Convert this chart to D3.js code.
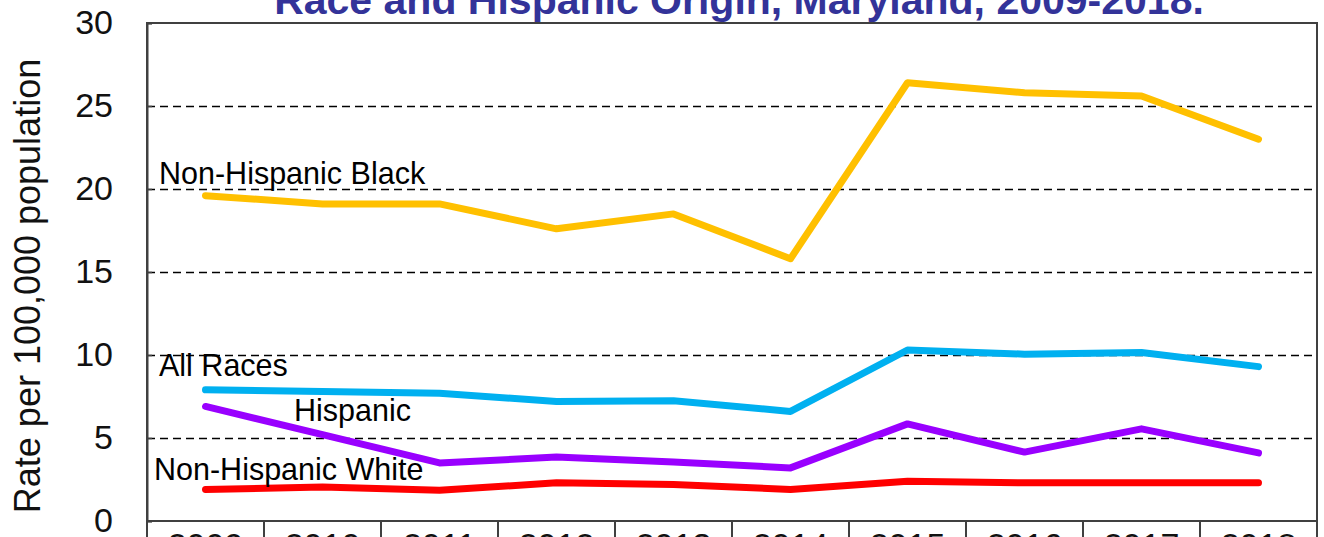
<!DOCTYPE html>
<html>
<head>
<meta charset="utf-8">
<script src="https://cdn.jsdelivr.net/npm/d3@7"></script>
<style>
  html, body { margin: 0; padding: 0; background: #fff; }
  svg { display: block; }
  text { font-family: "Liberation Sans", Arial, sans-serif; }
</style>
</head>
<body>
<svg id="chart" width="1324" height="537"></svg>
<script>
const years = ["2009","2010","2011","2012","2013","2014","2015","2016","2017","2018"];
const nhBlack = [19.6, 19.1, 19.1, 17.6, 18.5, 15.8, 26.4, 25.8, 25.6, 23.0];
const allRaces = [7.9, 7.8, 7.7, 7.2, 7.25, 6.6, 10.3, 10.05, 10.15, 9.3];
const hispanic = [6.9, 5.2, 3.5, 3.85, 3.55, 3.2, 5.85, 4.15, 5.55, 4.1];
const nhWhite = [1.9, 2.05, 1.85, 2.3, 2.2, 1.9, 2.4, 2.3, 2.3, 2.3];
const yTicks = [0, 5, 10, 15, 20, 25, 30];
const gridTicks = [5, 10, 15, 20, 25];
const titleText = "Race and Hispanic Origin, Maryland, 2009-2018.";
const yTitle = "Rate per 100,000 population";

const series = [
  { name: "Non-Hispanic Black", values: nhBlack, color: "#FFC000", lx: 159, ly: 184 },
  { name: "All Races", values: allRaces, color: "#00B0F0", lx: 159, ly: 376 },
  { name: "Hispanic", values: hispanic, color: "#9900FF", lx: 294, ly: 421 },
  { name: "Non-Hispanic White", values: nhWhite, color: "#FF0000", lx: 154, ly: 480 }
];

const svg = d3.select("#chart");
const L = 147, R = 1317, T = 23, B = 521;

const x = d3.scaleBand().domain(years).range([L, R]).padding(0);
const y = d3.scaleLinear().domain([0, 30]).range([B, T]);

// Title (partly clipped at top, as in the reference)
svg.append("text")
  .attr("x", 739).attr("y", 14)
  .attr("text-anchor", "middle")
  .attr("font-size", 41).attr("font-weight", "bold")
  .attr("fill", "#333399")
  .text(titleText);

// Gridlines
svg.append("g").selectAll("line").data(gridTicks).join("line")
  .attr("x1", L).attr("x2", R)
  .attr("y1", d => Math.round(y(d)) + 0.5).attr("y2", d => Math.round(y(d)) + 0.5)
  .attr("stroke", "#000").attr("stroke-width", 1.4)
  .attr("stroke-dasharray", "8,5");

// Plot frame
svg.append("rect")
  .attr("x", L).attr("y", T).attr("width", R - L).attr("height", B - T)
  .attr("fill", "none").attr("stroke", "#404040").attr("stroke-width", 2);

// Y axis
const yAxis = d3.axisLeft(y).tickValues(yTicks).tickSize(-5).tickPadding(34);
const gy = svg.append("g").attr("transform", `translate(${L},0)`).call(yAxis);
gy.select(".domain").attr("stroke", "#404040").attr("stroke-width", 2);
gy.selectAll(".tick line").attr("stroke", "#404040").attr("stroke-width", 1.5);
gy.selectAll(".tick text")
  .attr("font-size", 34).attr("fill", "#111")
  .attr("font-family", "'Liberation Sans', Arial, sans-serif");

// X axis: category separators and labels
const gx = svg.append("g").attr("transform", `translate(0,${B})`);
const bounds = years.map(d => x(d)).concat([R]);
gx.selectAll("line.sep").data(bounds).join("line")
  .attr("class", "sep")
  .attr("x1", d => d).attr("x2", d => d)
  .attr("y1", 0).attr("y2", 40)
  .attr("stroke", "#404040").attr("stroke-width", 2);
gx.append("line").attr("x1", L).attr("x2", R).attr("y1", 0).attr("y2", 0)
  .attr("stroke", "#404040").attr("stroke-width", 2);
gx.selectAll("text").data(years).join("text")
  .attr("x", d => x(d) + x.bandwidth() / 2)
  .attr("y", 36)
  .attr("text-anchor", "middle")
  .attr("font-size", 34).attr("fill", "#111")
  .text(d => d);

// Y axis title
svg.append("text")
  .attr("transform", "translate(40,286) rotate(-90)")
  .attr("text-anchor", "middle")
  .attr("font-size", 36).attr("fill", "#111")
  .text(yTitle);

// Lines
const line = d3.line()
  .x((d, i) => x(years[i]) + x.bandwidth() / 2)
  .y(d => y(d));

series.forEach(s => {
  svg.append("path")
    .datum(s.values)
    .attr("d", line)
    .attr("fill", "none")
    .attr("stroke", s.color)
    .attr("stroke-width", 7)
    .attr("stroke-linejoin", "round")
    .attr("stroke-linecap", "round");
});

// Series labels
svg.append("g").selectAll("text").data(series).join("text")
  .attr("x", d => d.lx).attr("y", d => d.ly)
  .attr("font-size", 30.5).attr("fill", "#000")
  .text(d => d.name);
</script>
</body>
</html>
